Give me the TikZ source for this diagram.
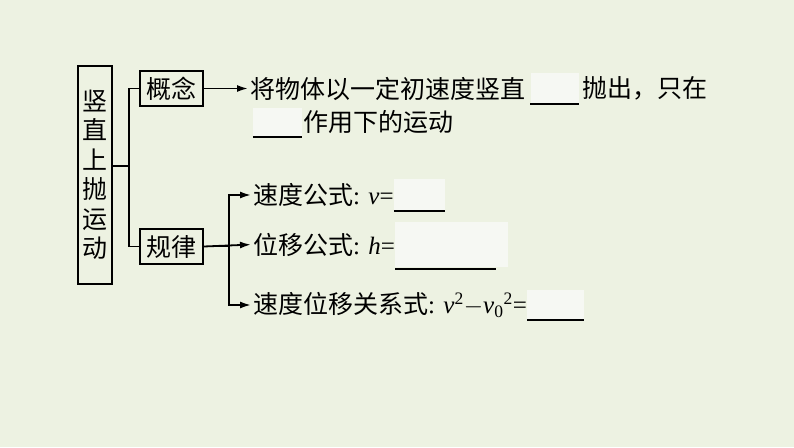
\documentclass[tikz,border=0pt]{standalone}
\usepackage{fontspec}
\setmainfont{Liberation Serif}
\newfontfamily\cjk{Noto Sans CJK SC}
\usetikzlibrary{arrows.meta,positioning}
\definecolor{bgcol}{RGB}{237,242,226}
\definecolor{gapcol}{RGB}{246,248,243}
\newcommand\lat[1]{{\rmfamily #1}}

\begin{document}
\begin{tikzpicture}[
    x=1pt, y=1pt,
    title node/.style={rectangle,draw,line width=2pt,align=center,inner sep=0pt,
        minimum width=34pt,minimum height=218pt,font=\cjk\fontsize{25}{29.5}\selectfont},
    sub node/.style={rectangle,draw,line width=2pt,inner sep=0pt,
        minimum width=63pt,minimum height=35pt,font=\cjk\fontsize{25}{30}\selectfont},
    text node/.style={anchor=west,inner sep=0pt,font=\cjk\fontsize{25}{30}\selectfont},
    gap node/.style={rectangle,fill=gapcol,inner sep=0pt},
    uline/.style={line width=2pt},
    line/.style={line width=1.8pt},
    arrow/.style={-{Latex[length=11pt,width=7pt]},line width=1.8pt,shorten >=2pt}
]
\fill[bgcol] (0,0) rectangle (794,447);

% 竖直上抛运动
\node[title node] (motion) at (95,272) {竖\\直\\上\\抛\\运\\动};
\coordinate (fork) at (129,281);

% 概念 / 规律
\node[sub node] (concept) at (171.5,358.5) {概念};
\node[sub node, below=121pt of concept] (law) {规律};
\draw[line] (motion.east |- fork) -- (fork);
\draw[line] (concept.west) -| (fork) |- (law.west);

% 概念
\node[text node] (def1) at (250,358.5) {将物体以一定初速度竖直};
\node[gap node, minimum width=48pt, minimum height=30pt, right=5pt of def1] (gap1) {};
\node[text node, right=3pt of gap1] (def2) {抛出，只在};
\node[gap node, minimum width=49pt, minimum height=29pt] (gap2) at (277.5,324.5) {};
\node[text node, right=1pt of gap2] (def3) {作用下的运动};
\draw[arrow] (concept.east) -- (def1.west);

% 规律
\node[text node] (speed) at (253,252) {速度公式\lat{: \textit{v}=}};
\node[text node] (disp) at (253,202.5) {位移公式\lat{: \textit{h}=}};
\node[text node] (relation) at (253,142) {速度位移关系式\lat{: \textit{v}\textsuperscript{2}$-$\textit{v}\textsubscript{0}\textsuperscript{2}=}};
\draw[arrow] (law.east) -- (disp.west);
\draw[arrow] (law.east) -- ++(25,0) |- (speed.west);
\draw[arrow] (law.east) -- ++(25,0) |- (relation.west);

% 填空
\node[gap node, minimum width=51pt, minimum height=31pt, right=0pt of speed] (gapv) {};
\node[gap node, minimum width=113pt, minimum height=45pt, right=0pt of disp] (gaph) {};
\node[gap node, minimum width=57pt, minimum height=30pt, right=0pt of relation] (gaps) {};
\foreach \g in {gap1,gap2,gapv,gaps}
    \draw[uline] (\g.south west) -- (\g.south east);
\draw[uline] ([yshift=-2pt]gaph.south west) -- ++(101,0);

\end{tikzpicture}
\end{document}
